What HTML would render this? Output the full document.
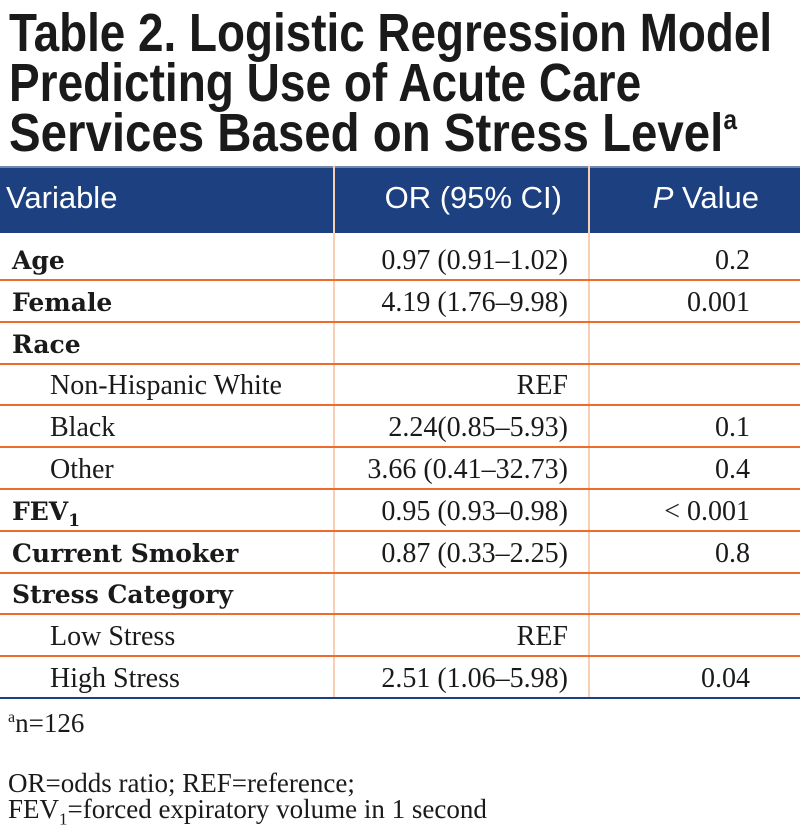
<!DOCTYPE html>
<html><head><meta charset="utf-8"><style>
body{margin:0;width:800px;height:832px;background:#fff;position:relative;overflow:hidden;font-family:"Liberation Serif",serif;color:#1a1a1a}
.t{position:absolute;left:9px;font:bold 54px/50px "Liberation Sans",sans-serif;white-space:nowrap;transform-origin:0 0;color:#1a1a1a}
.t sup{font-size:28px;vertical-align:22px;line-height:0}
#hdr{position:absolute;left:0;top:166px;width:800px;height:67px;background:#1c4080;border-top:2px solid #6f88b0;box-sizing:border-box}
.h{position:absolute;top:180px;color:#fff;font:31px "Liberation Sans",sans-serif;white-space:nowrap}
.vl{position:absolute;width:2px;background:#f8cfb3}
.hl{position:absolute;left:0;width:800px;height:2px;background:#f06a2c}
.c{position:absolute;font-size:28px;white-space:nowrap;line-height:30px}
.b{font-family:"DejaVu Serif",serif;font-weight:bold;font-size:25px}
.r{text-align:right}
.f{position:absolute;left:8px;font-size:27px;white-space:nowrap}
</style></head><body>
<div class="t" id="t1" style="top:8px">Table 2. Logistic Regression Model</div>
<div class="t" id="t2" style="top:58px">Predicting Use of Acute Care</div>
<div class="t" id="t3" style="top:108px">Services Based on Stress Level<sup>a</sup></div>
<div id="hdr"></div>
<div class="h" style="left:6px">Variable</div>
<div class="h" style="right:238px">OR (95% CI)</div>
<div class="h" style="right:41px"><i>P</i> Value</div>
<div class="vl" style="left:333px;top:166px;height:533px"></div>
<div class="vl" style="left:588px;top:166px;height:533px"></div>
<div id="rows"></div>
<div class="f" style="top:708px"><sup style="font-size:16px">a</sup>n=126</div>
<div class="f" style="top:768px">OR=odds ratio; REF=reference;</div>
<div class="f" style="top:794px">FEV<sub style="font-size:17px">1</sub>=forced expiratory volume in 1 second</div>
<script>
const labels=["Age","Female","Race","Non-Hispanic White","Black","Other","FEV<sub style='font-size:17px'>1</sub>","Current Smoker","Stress Category","Low Stress","High Stress"];
const bold=[1,1,1,0,0,0,1,1,1,0,0];
const ors=["0.97 (0.91–1.02)","4.19 (1.76–9.98)","","REF","2.24(0.85–5.93)","3.66 (0.41–32.73)","0.95 (0.93–0.98)","0.87 (0.33–2.25)","","REF","2.51 (1.06–5.98)"];
const ps=["0.2","0.001","","","0.1","0.4","< 0.001","0.8","","","0.04"];
const R=document.getElementById('rows');
const pitch=41.8;
labels.forEach((l,i)=>{
  const top=238+pitch*i;
  const a=document.createElement('div');
  
  
  a.className='c'+(bold[i]?' b':'');
  a.style.left=(bold[i]?12:50)+'px';a.style.top=(top+8)+'px';a.innerHTML=l;R.appendChild(a);
  const o=document.createElement('div');
  
  
  o.className='c r';o.style.right='232px';o.style.top=(top+8)+'px';o.textContent=ors[i];R.appendChild(o);
  const p=document.createElement('div');
  
  
  p.className='c r';p.style.right='50px';p.style.top=(top+8)+'px';p.textContent=ps[i];R.appendChild(p);
  const h=document.createElement('div');
  
  
  h.className='hl';h.style.top=(279+pitch*i)+'px';
  if(i==labels.length-1){h.style.background='#1c4080';}
  R.appendChild(h);
});
[["t1",763],["t2",632],["t3",728]].forEach(([id,w])=>{const e=document.getElementById(id);e.style.transform='scaleX('+(w/e.scrollWidth)+')';});
</script>
</body></html>
